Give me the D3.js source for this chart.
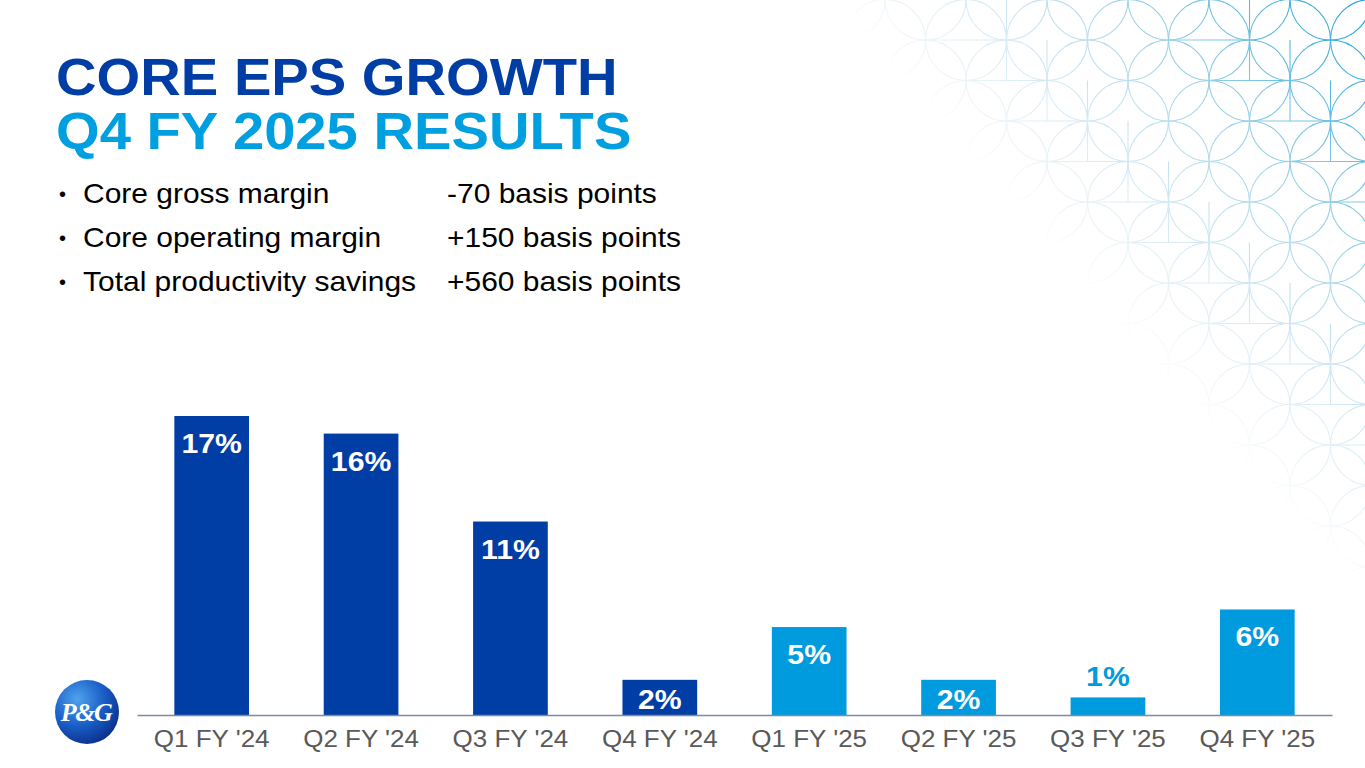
<!DOCTYPE html>
<html>
<head>
<meta charset="utf-8">
<script src="https://cdn.jsdelivr.net/npm/d3@7/dist/d3.min.js"></script>
<style>
  html, body { margin: 0; padding: 0; background: #ffffff; }
  svg { display: block; }
</style>
</head>
<body>
<svg id="chart" width="1365" height="768"></svg>
<script>
// ---------- DATA ----------
const titleLines = ["CORE EPS GROWTH", "Q4 FY 2025 RESULTS"];
const bulletLabels = ["Core gross margin", "Core operating margin", "Total productivity savings"];
const bulletValues = ["-70 basis points", "+150 basis points", "+560 basis points"];
const categories = ["Q1 FY '24", "Q2 FY '24", "Q3 FY '24", "Q4 FY '24", "Q1 FY '25", "Q2 FY '25", "Q3 FY '25", "Q4 FY '25"];
const epsGrowth = [17, 16, 11, 2, 5, 2, 1, 6];
const fiscalYear = ["FY24", "FY24", "FY24", "FY24", "FY25", "FY25", "FY25", "FY25"];

// ---------- SETUP ----------
const svg = d3.select("#chart");
const W = 1365, H = 768;
const FONT = "'Liberation Sans', Arial, Helvetica, sans-serif";
const darkBlue = "#003DA5";
const lightBlue = "#009ADE";
const color = d3.scaleOrdinal().domain(["FY24", "FY25"]).range([darkBlue, lightBlue]);

const defs = svg.append("defs");

// ---------- BACKGROUND PATTERN (decorative) ----------
const maskGrad = defs.append("linearGradient")
  .attr("id", "fadeGrad").attr("gradientUnits", "userSpaceOnUse")
  .attr("x1", 1000).attr("y1", 200).attr("x2", 1290).attr("y2", -60);
maskGrad.append("stop").attr("offset", 0).attr("stop-color", "#000");
maskGrad.append("stop").attr("offset", 0.12).attr("stop-color", "#2a2a2a");
maskGrad.append("stop").attr("offset", 1).attr("stop-color", "#fff");
defs.append("mask").attr("id", "fadeMask")
  .append("rect").attr("x", 0).attr("y", 0).attr("width", W).attr("height", H)
  .attr("fill", "url(#fadeGrad)");

const strokeGrad = defs.append("linearGradient")
  .attr("id", "strokeGrad").attr("gradientUnits", "userSpaceOnUse")
  .attr("x1", 1000).attr("y1", 200).attr("x2", 1290).attr("y2", -60);
strokeGrad.append("stop").attr("offset", 0).attr("stop-color", "#A9C9DC");
strokeGrad.append("stop").attr("offset", 1).attr("stop-color", "#1BA3DA");

const pat = svg.append("g").attr("mask", "url(#fadeMask)")
  .attr("fill", "none").attr("stroke", "url(#strokeGrad)").attr("stroke-width", 1.1);
const R = 40.5, cx0 = 966, cy0 = 40;
const centers = [];
for (let a = -5; a <= 10; a++) {
  for (let b = -1; b <= 19; b++) {
    if (((a + b) % 2 + 2) % 2 !== 0) continue;
    const cx = cx0 + a * R, cy = cy0 + b * R;
    if (cx < 830 + 0.92 * cy - 40) continue;
    centers.push([cx, cy, a, b]);
  }
}
pat.selectAll("circle").data(centers.filter(d => ((d[2] + 3 * d[3]) % 4 + 4) % 4 !== 3)).join("circle")
  .attr("cx", d => d[0]).attr("cy", d => d[1]).attr("r", R);
pat.selectAll("line.seg").data(centers.filter(d => ((d[2] + 2 * d[3]) % 3 + 3) % 3 === 0)).join("line")
  .attr("class", "seg")
  .attr("x1", d => d[0]).attr("y1", d => d[1] + R)
  .attr("x2", d => d[0] + 2 * R).attr("y2", d => d[1] + R);
pat.selectAll("line.vseg").data(centers.filter(d => ((2 * d[2] + d[3]) % 3 + 3) % 3 === 1)).join("line")
  .attr("class", "vseg")
  .attr("x1", d => d[0]).attr("y1", d => d[1])
  .attr("x2", d => d[0]).attr("y2", d => d[1] + 2 * R);

// helper: horizontally widened text (the slide's type is slightly stretched)
function wideText(g, x, y, sx) {
  return g.append("text").attr("transform", `translate(${x},${y}) scale(${sx},1)`);
}

// ---------- TITLE ----------
wideText(svg, 56, 95, 1.07)
  .attr("font-family", FONT).attr("font-weight", "bold").attr("font-size", 52.5)
  .attr("fill", darkBlue).text(titleLines[0]);
wideText(svg, 56, 149, 1.07)
  .attr("font-family", FONT).attr("font-weight", "bold").attr("font-size", 52.5)
  .attr("fill", "#00A0E0").text(titleLines[1]);

// ---------- BULLETS ----------
const bl = svg.append("g").attr("font-family", FONT).attr("fill", "#000");
bulletLabels.forEach((t, i) => {
  const yy = 203 + i * 44;
  bl.append("text").attr("x", 59).attr("y", yy - 2).attr("font-size", 20).text("•");
  wideText(bl, 83, yy, 1.11).attr("font-size", 27).text(t);
  wideText(bl, 447, yy, 1.11).attr("font-size", 27).text(bulletValues[i]);
});

// ---------- CHART ----------
const x = d3.scaleBand().domain(categories).range([137, 1332]).paddingInner(0.5).paddingOuter(0.25);
const y = d3.scaleLinear().domain([0, 17]).range([715, 416]);
const data = categories.map((c, i) => ({ c, v: epsGrowth[i], fy: fiscalYear[i] }));

svg.append("g").selectAll("rect").data(data).join("rect")
  .attr("x", d => x(d.c)).attr("width", x.bandwidth())
  .attr("y", d => y(d.v)).attr("height", d => y(0) - y(d.v))
  .attr("fill", d => color(d.fy));

const axis = svg.append("g").attr("transform", `translate(0,${y(0)})`)
  .call(d3.axisBottom(x).tickSize(0).tickSizeOuter(0).tickPadding(16));
axis.select(".domain").attr("stroke", "#7C8BA3").attr("stroke-width", 1.6);
axis.selectAll("text").attr("font-family", FONT).attr("font-size", 23).attr("fill", "#595959")
  .attr("transform", "scale(1.13,1)");

const labels = svg.append("g");
data.forEach(d => {
  const h = y(0) - y(d.v);
  const ly = h < 25 ? y(d.v) - 11 : Math.min(y(d.v) + 37, y(0) - 6);
  wideText(labels, x(d.c) + x.bandwidth() / 2, ly, 1.12)
    .attr("text-anchor", "middle")
    .attr("font-family", FONT).attr("font-weight", "bold").attr("font-size", 27)
    .attr("fill", h < 25 ? lightBlue : "#ffffff")
    .text(d.v + "%");
});

// ---------- LOGO ----------
const lg = defs.append("radialGradient").attr("id", "logoGrad")
  .attr("cx", "35%").attr("cy", "30%").attr("r", "75%");
lg.append("stop").attr("offset", 0).attr("stop-color", "#4FA3EC");
lg.append("stop").attr("offset", 0.55).attr("stop-color", "#1A5FC8");
lg.append("stop").attr("offset", 1).attr("stop-color", "#0A2F8C");
const logo = svg.append("g").attr("transform", "translate(87,712)");
logo.append("ellipse").attr("rx", 32).attr("ry", 32).attr("fill", "url(#logoGrad)");
logo.append("text").attr("x", -1).attr("y", 9).attr("text-anchor", "middle")
  .attr("font-family", "'Liberation Serif', 'DejaVu Serif', serif")
  .attr("font-weight", "bold").attr("font-style", "italic").attr("font-size", 26)
  .attr("fill", "#ffffff").attr("letter-spacing", -1.5).text("P&G");
</script>
</body>
</html>
